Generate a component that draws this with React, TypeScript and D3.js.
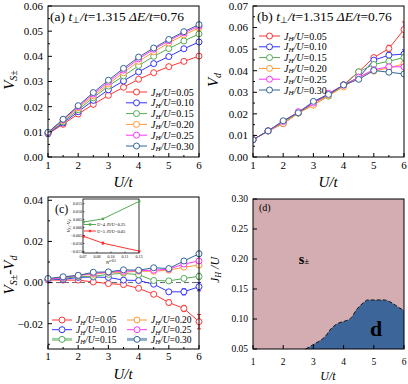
import React from "react";
import * as d3 from "d3";

// U/t grid shared by panels a-c
const uVals = [1, 1.5, 2, 2.5, 3, 3.5, 4, 4.5, 5, 5.5, 6];
const jhLabels = ["0.05", "0.10", "0.15", "0.20", "0.25", "0.30"];
const colors = ["#ff3333", "#3333ff", "#55aa55", "#ff9933", "#ff33ff", "#336699"];

// (a) V_S±
const vsData = [
  [0.0092, 0.013, 0.0171, 0.0209, 0.0245, 0.0277, 0.0309, 0.0335, 0.0359, 0.038, 0.0401],
  [0.0093, 0.0135, 0.018, 0.0225, 0.0267, 0.0302, 0.0338, 0.0371, 0.0399, 0.043, 0.0457],
  [0.0095, 0.014, 0.0188, 0.0235, 0.0282, 0.0322, 0.0363, 0.04, 0.0431, 0.0461, 0.0489],
  [0.0096, 0.0145, 0.0195, 0.0243, 0.029, 0.0335, 0.038, 0.0418, 0.0453, 0.0485, 0.0513],
  [0.0097, 0.0148, 0.02, 0.025, 0.0298, 0.0345, 0.039, 0.0428, 0.0462, 0.0493, 0.052],
  [0.0098, 0.015, 0.0204, 0.0256, 0.0305, 0.0352, 0.0397, 0.0433, 0.0467, 0.0498, 0.0526],
];

// (b) V_d
const vdData = [
  [0.008, 0.0121, 0.0165, 0.0205, 0.025, 0.0288, 0.0335, 0.0395, 0.0461, 0.0503, 0.0591],
  [0.008, 0.0121, 0.0155, 0.0204, 0.0255, 0.029, 0.0334, 0.0368, 0.0449, 0.0472, 0.0477],
  [0.008, 0.0121, 0.016, 0.0204, 0.0242, 0.0282, 0.0332, 0.0395, 0.0429, 0.0444, 0.0461],
  [0.008, 0.0121, 0.0155, 0.0204, 0.024, 0.0285, 0.0325, 0.037, 0.0398, 0.0413, 0.0432],
  [0.008, 0.0121, 0.0165, 0.021, 0.025, 0.0295, 0.0333, 0.037, 0.0405, 0.0418, 0.0418],
  [0.008, 0.0121, 0.0168, 0.0205, 0.0258, 0.029, 0.0334, 0.036, 0.0401, 0.0393, 0.0385],
];
const vdErr = [
  [0, 0, 0, 0, 0, 0, 0, 0.0005, 0.0008, 0.0015, 0.0035],
  [0, 0, 0, 0, 0, 0, 0, 0.0004, 0.0006, 0.0012, 0.002],
  [0, 0, 0, 0, 0, 0, 0, 0.0004, 0.0006, 0.001, 0.0015],
  [0, 0, 0, 0, 0, 0, 0, 0.0003, 0.0005, 0.0008, 0.001],
  [0, 0, 0, 0, 0, 0, 0, 0.0003, 0.0005, 0.0008, 0.001],
  [0, 0, 0, 0, 0, 0, 0, 0.0003, 0.0005, 0.0008, 0.001],
];

// (c) V_S± - V_d
const diffData = [
  [0.0012, 0.0012, 0.0012, 0.0003, -0.0005, -0.001, -0.0028, -0.0057, -0.0097, -0.0126, -0.019],
  [0.0015, 0.0015, 0.0025, 0.0027, 0.0025, 0.0012, 0.001, -0.0008, -0.0045, -0.0045, -0.002],
  [0.0015, 0.002, 0.003, 0.003, 0.004, 0.0045, 0.0038, 0.001, 0.0008, 0.002, 0.003],
  [0.0015, 0.0025, 0.0035, 0.004, 0.005, 0.005, 0.0055, 0.0055, 0.006, 0.0075, 0.0085],
  [0.0015, 0.0025, 0.0035, 0.0045, 0.005, 0.0055, 0.0058, 0.006, 0.0065, 0.009, 0.0105],
  [0.002, 0.0028, 0.0035, 0.005, 0.0052, 0.0062, 0.006, 0.0072, 0.0068, 0.0105, 0.014],
];
const diffErr = [
  [0, 0, 0, 0, 0, 0, 0.0005, 0.0008, 0.0012, 0.0015, 0.0035],
  [0, 0, 0, 0, 0, 0, 0.0004, 0.0006, 0.001, 0.0015, 0.002],
  [0, 0, 0, 0, 0, 0, 0.0004, 0.0006, 0.0008, 0.001, 0.0015],
  [0, 0, 0, 0, 0, 0, 0.0003, 0.0005, 0.0006, 0.0008, 0.001],
  [0, 0, 0, 0, 0, 0, 0.0003, 0.0005, 0.0006, 0.0008, 0.001],
  [0, 0, 0, 0, 0, 0, 0.0003, 0.0005, 0.0006, 0.001, 0.0012],
];

// (c) inset
const insetX = [0.0707, 0.0913, 0.1302];
const insetGreen = [0.0035, 0.0055, 0.0165];
const insetRed = [-0.0055, -0.0098, -0.0148];
const insetRedErr = [0.001, 0.0012, 0.0004];
const insetXTicks = [0.07, 0.085, 0.1, 0.115, 0.13];
const insetXLabels = ["0.07", "0.08", "0.10", "0.11", "0.13"];
const insetYTicks = [-0.015, -0.01, -0.005, 0, 0.005, 0.01, 0.015];

// (d) phase boundary
const boundaryU = [2.74, 3.02, 3.41, 3.57, 3.79, 4.07, 4.23, 4.45, 4.68, 4.79, 5.34, 5.56, 5.83, 6.0];
const boundaryJ = [0.05, 0.058, 0.072, 0.083, 0.092, 0.097, 0.101, 0.117, 0.128, 0.1317, 0.1317, 0.128, 0.119, 0.114];

const serif = "'Liberation Serif', 'Times New Roman', serif";

type Scale = d3.ScaleLinear<number, number>;

const Frame = ({ x, y, xTicks, xMinor, yTicks, yMinor, yFmt, fs, xLabY }: any) => {
  const [x0, x1] = x.range();
  const [y0, y1] = y.range();
  return (
    <g fontFamily={serif} fontSize={fs}>
      <rect x={x0} y={y1} width={x1 - x0} height={y0 - y1} fill="none" stroke="#000" strokeWidth={1} />
      {xTicks.map((t: number) => (
        <g key={"x" + t}>
          <line x1={x(t)} x2={x(t)} y1={y0} y2={y0 - 4} stroke="#000" />
          <text x={x(t)} y={xLabY} textAnchor="middle">{t}</text>
        </g>
      ))}
      {xMinor.map((t: number) => (
        <line key={"xm" + t} x1={x(t)} x2={x(t)} y1={y0} y2={y0 - 2} stroke="#000" />
      ))}
      {yTicks.map((t: number) => (
        <g key={"y" + t}>
          <line x1={x0} x2={x0 + 4} y1={y(t)} y2={y(t)} stroke="#000" />
          <text x={x0 - 5} y={y(t)} dy="0.35em" textAnchor="end">{yFmt(t)}</text>
        </g>
      ))}
      {yMinor.map((t: number) => (
        <line key={"ym" + t} x1={x0} x2={x0 + 2} y1={y(t)} y2={y(t)} stroke="#000" />
      ))}
    </g>
  );
};

const Series = ({ x, y, data, err, r = 3 }: { x: Scale; y: Scale; data: number[][]; err?: number[][]; r?: number }) => {
  const line = d3.line<number>().x((_, i) => x(uVals[i])).y((d) => y(d));
  return (
    <g>
      {data.map((s, k) => (
        <g key={k} stroke={colors[k]} fill="none" strokeWidth={1}>
          <path d={line(s) || ""} />
          {err &&
            s.map((v, i) =>
              err[k][i] > 0 ? (
                <g key={"e" + i}>
                  <line x1={x(uVals[i])} x2={x(uVals[i])} y1={y(v - err[k][i])} y2={y(v + err[k][i])} />
                  <line x1={x(uVals[i]) - 2} x2={x(uVals[i]) + 2} y1={y(v - err[k][i])} y2={y(v - err[k][i])} />
                  <line x1={x(uVals[i]) - 2} x2={x(uVals[i]) + 2} y1={y(v + err[k][i])} y2={y(v + err[k][i])} />
                </g>
              ) : null
            )}
          {s.map((v, i) => (
            <circle key={i} cx={x(uVals[i])} cy={y(v)} r={r} fill="#fff" />
          ))}
        </g>
      ))}
    </g>
  );
};

const JhText = ({ x, y, label, fs = 10 }: any) => (
  <text x={x} y={y + fs * 0.35} fontFamily={serif} fontSize={fs}>
    <tspan fontStyle="italic">J</tspan>
    <tspan fontStyle="italic" fontSize={fs * 0.7} dy={1.5}>H</tspan>
    <tspan fontStyle="italic" dy={-1.5}>/U</tspan>
    <tspan>={label}</tspan>
  </text>
);

const LegendRow = ({ x, y, k, w = 21, fs = 10, thick = false }: any) => (
  <g>
    <line x1={x} x2={x + w} y1={y} y2={y} stroke={colors[k]} strokeWidth={thick ? 3 : 1} strokeOpacity={thick ? 0.55 : 1} />
    <circle cx={x + w / 2} cy={y} r={3} fill="#fff" stroke={colors[k]} />
    <JhText x={x + w + 4} y={y} label={jhLabels[k]} fs={fs} />
  </g>
);

const Title = ({ x, y, tag }: any) => (
  <text x={x} y={y} fontFamily={serif} fontSize={13.5}>
    <tspan>({tag}) </tspan>
    <tspan fontStyle="italic">t</tspan>
    <tspan fontSize={9} dy={2}>⊥</tspan>
    <tspan fontStyle="italic" dy={-2}>/t</tspan>
    <tspan>=1.315 </tspan>
    <tspan fontStyle="italic">ΔE/t</tspan>
    <tspan>=0.76</tspan>
  </text>
);

const fmt2 = d3.format(".2f");
const fmt3 = d3.format(".3f");

export default function App() {
  const xTicks = d3.range(1, 7);
  const xMinor = d3.range(1.5, 6, 1);

  const xa = d3.scaleLinear().domain([1, 6]).range([48, 199]);
  const ya = d3.scaleLinear().domain([0, 0.06]).range([157, 6]);
  const xb = d3.scaleLinear().domain([1, 6]).range([253, 404]);
  const yb = d3.scaleLinear().domain([0, 0.07]).range([157, 6]);
  const xc = d3.scaleLinear().domain([1, 6]).range([48, 199]);
  const yc = d3.scaleLinear().domain([-0.0323, 0.0416]).range([349, 197]);
  const xd = d3.scaleLinear().domain([1, 6]).range([253, 404]);
  const yd = d3.scaleLinear().domain([0.05, 0.3]).range([349, 199]);

  const xi = d3.scaleLinear().domain([0.07, 0.13]).range([83, 139]);
  const yi = d3.scaleLinear().domain([-0.016, 0.018]).range([253, 199]);
  const insetLine = d3.line<number>().x((_, i) => xi(insetX[i])).y((d) => yi(d));

  const bArea = d3
    .area<number>()
    .x((_, i) => xd(boundaryU[i]))
    .y0(yd(0.05))
    .y1((d) => yd(d))
    .curve(d3.curveMonotoneX);
  const bLine = d3
    .line<number>()
    .x((_, i) => xd(boundaryU[i]))
    .y((d) => yd(d))
    .curve(d3.curveMonotoneX);

  const yLab = (x: number, y: number, content: React.ReactNode, fs = 15) => (
    <text transform={`translate(${x},${y}) rotate(-90)`} textAnchor="middle" fontFamily={serif} fontSize={fs} fontStyle="italic">
      {content}
    </text>
  );

  return (
    <svg width={408} height={384} style={{ position: "absolute", left: 0, top: 0, background: "#fff" }}>
      <defs>
        <clipPath id="clipB"><rect x={253} y={6} width={151} height={151} /></clipPath>
      </defs>

      {/* (a) */}
      <Series x={xa} y={ya} data={vsData} />
      <Frame x={xa} y={ya} xTicks={xTicks} xMinor={xMinor} yTicks={d3.range(0, 0.061, 0.01)} yMinor={d3.range(0.005, 0.06, 0.01)} yFmt={fmt2} fs={11} xLabY={169} />
      <Title x={50} y={21} tag="a" />
      {jhLabels.map((_, k) => (
        <LegendRow key={k} x={126} y={92 + k * 10.8} k={k} />
      ))}
      {yLab(14, 80, <><tspan>V</tspan><tspan fontSize={10} dy={3}>S±</tspan></>)}
      <text x={123} y={187} textAnchor="middle" fontFamily={serif} fontSize={15} fontStyle="italic">U/t</text>

      {/* (b) */}
      <g clipPath="url(#clipB)">
        <Series x={xb} y={yb} data={vdData} err={vdErr} />
      </g>
      <Frame x={xb} y={yb} xTicks={xTicks} xMinor={xMinor} yTicks={d3.range(0, 0.071, 0.01)} yMinor={d3.range(0.005, 0.07, 0.01)} yFmt={fmt2} fs={11} xLabY={169} />
      <Title x={257} y={21} tag="b" />
      {jhLabels.map((_, k) => (
        <LegendRow key={k} x={259} y={36 + k * 10.8} k={k} />
      ))}
      {yLab(218, 80, <><tspan>V</tspan><tspan fontSize={10} dy={3}>d</tspan></>)}
      <text x={328} y={187} textAnchor="middle" fontFamily={serif} fontSize={15} fontStyle="italic">U/t</text>

      {/* (c) */}
      <line x1={48} x2={199} y1={yc(0)} y2={yc(0)} stroke="#666" strokeDasharray="5,3" />
      <Series x={xc} y={yc} data={diffData} err={diffErr} />
      <Frame x={xc} y={yc} xTicks={xTicks} xMinor={xMinor} yTicks={[-0.02, 0, 0.02, 0.04]} yMinor={[-0.03, -0.01, 0.01, 0.03]} yFmt={fmt2} fs={11} xLabY={360} />
      <text x={55} y={213} fontFamily={serif} fontSize={12}>(c)</text>
      {[0, 1, 2].map((k) => (
        <LegendRow key={k} x={52} y={320 + k * 9.7} k={k} w={20} fs={9.5} thick={k === 2} />
      ))}
      {[3, 4, 5].map((k) => (
        <LegendRow key={k} x={127} y={320 + (k - 3) * 9.7} k={k} w={20} fs={9.5} thick={k === 5} />
      ))}
      {yLab(14, 275, <><tspan>V</tspan><tspan fontSize={10} dy={3}>S±</tspan><tspan dy={-3}>-V</tspan><tspan fontSize={10} dy={3}>d</tspan></>)}
      <text x={123} y={379} textAnchor="middle" fontFamily={serif} fontSize={15} fontStyle="italic">U/t</text>

      {/* (c) inset */}
      <g fontFamily={serif}>
        <rect x={83} y={199} width={56} height={54} fill="#fff" stroke="#000" strokeWidth={0.8} />
        <path d={insetLine(insetGreen) || ""} fill="none" stroke={colors[2]} />
        <path d={insetLine(insetRed) || ""} fill="none" stroke={colors[0]} />
        {insetX.map((v, i) => (
          <g key={i}>
            <rect x={xi(v) - 1.2} y={yi(insetGreen[i]) - 1.2} width={2.4} height={2.4} fill={colors[2]} />
            <line x1={xi(v)} x2={xi(v)} y1={yi(insetRed[i] - insetRedErr[i])} y2={yi(insetRed[i] + insetRedErr[i])} stroke={colors[0]} />
            <rect x={xi(v) - 1.2} y={yi(insetRed[i]) - 1.2} width={2.4} height={2.4} fill={colors[0]} />
          </g>
        ))}
        {insetXTicks.map((t, i) => (
          <g key={"ix" + t}>
            <line x1={xi(t)} x2={xi(t)} y1={253} y2={251.5} stroke="#000" strokeWidth={0.6} />
            <text x={xi(t)} y={258} textAnchor="middle" fontSize={4}>{insetXLabels[i]}</text>
          </g>
        ))}
        {insetYTicks.map((t) => (
          <g key={"iy" + t}>
            <line x1={83} x2={84.5} y1={yi(t)} y2={yi(t)} stroke="#000" strokeWidth={0.6} />
            <text x={82} y={yi(t)} dy="0.35em" textAnchor="end" fontSize={4}>{fmt3(t)}</text>
          </g>
        ))}
        <text x={111} y={264} textAnchor="middle" fontSize={5} fontStyle="italic">
          N<tspan fontSize={3.5} dy={-2}>s</tspan><tspan fontSize={3.5}>-0.5</tspan>
        </text>
        <text transform="translate(70,226) rotate(-90)" textAnchor="middle" fontSize={5} fontStyle="italic">
          V<tspan fontSize={3.5} dy={1}>S±</tspan><tspan dy={-1}>-V</tspan><tspan fontSize={3.5} dy={1}>d</tspan>
        </text>
        <line x1={84} x2={96} y1={224.5} y2={224.5} stroke={colors[2]} />
        <rect x={88.8} y={223.3} width={2.4} height={2.4} fill={colors[2]} />
        <text x={97} y={224.5} dy="0.35em" fontSize={4.5}>
          <tspan fontStyle="italic">U</tspan>=4 <tspan fontStyle="italic">J</tspan><tspan fontSize={3}>H</tspan><tspan fontStyle="italic">/U</tspan>=0.25
        </text>
        <line x1={84} x2={96} y1={231} y2={231} stroke={colors[0]} />
        <rect x={88.8} y={229.8} width={2.4} height={2.4} fill={colors[0]} />
        <text x={97} y={231} dy="0.35em" fontSize={4.5}>
          <tspan fontStyle="italic">U</tspan>=5 <tspan fontStyle="italic">J</tspan><tspan fontSize={3}>H</tspan><tspan fontStyle="italic">/U</tspan>=0.05
        </text>
      </g>

      {/* (d) */}
      <rect x={253} y={199} width={151} height={150} fill="#d3adb1" />
      <path d={bArea(boundaryJ) || ""} fill="#3c6699" />
      <path d={bLine(boundaryJ) || ""} fill="none" stroke="#111" strokeWidth={1} strokeDasharray="4,2" />
      <Frame x={xd} y={yd} xTicks={xTicks} xMinor={[]} yTicks={d3.range(0.05, 0.301, 0.05)} yMinor={[]} yFmt={fmt2} fs={9.5} xLabY={365} />
      <text x={259} y={211} fontFamily={serif} fontSize={10}>(d)</text>
      <text x={304} y={264} textAnchor="middle" fontFamily={serif} fontSize={14} fontWeight="bold">
        s<tspan fontSize={9} fontWeight="normal">±</tspan>
      </text>
      <text x={376} y={336} textAnchor="middle" fontFamily={serif} fontSize={22} fontWeight="bold">d</text>
      {yLab(219, 270, <><tspan>J</tspan><tspan fontSize={8} dy={2}>H</tspan><tspan dy={-2}> /U</tspan></>, 12)}
      <text x={328} y={380} textAnchor="middle" fontFamily={serif} fontSize={12} fontStyle="italic">U/t</text>
    </svg>
  );
}
